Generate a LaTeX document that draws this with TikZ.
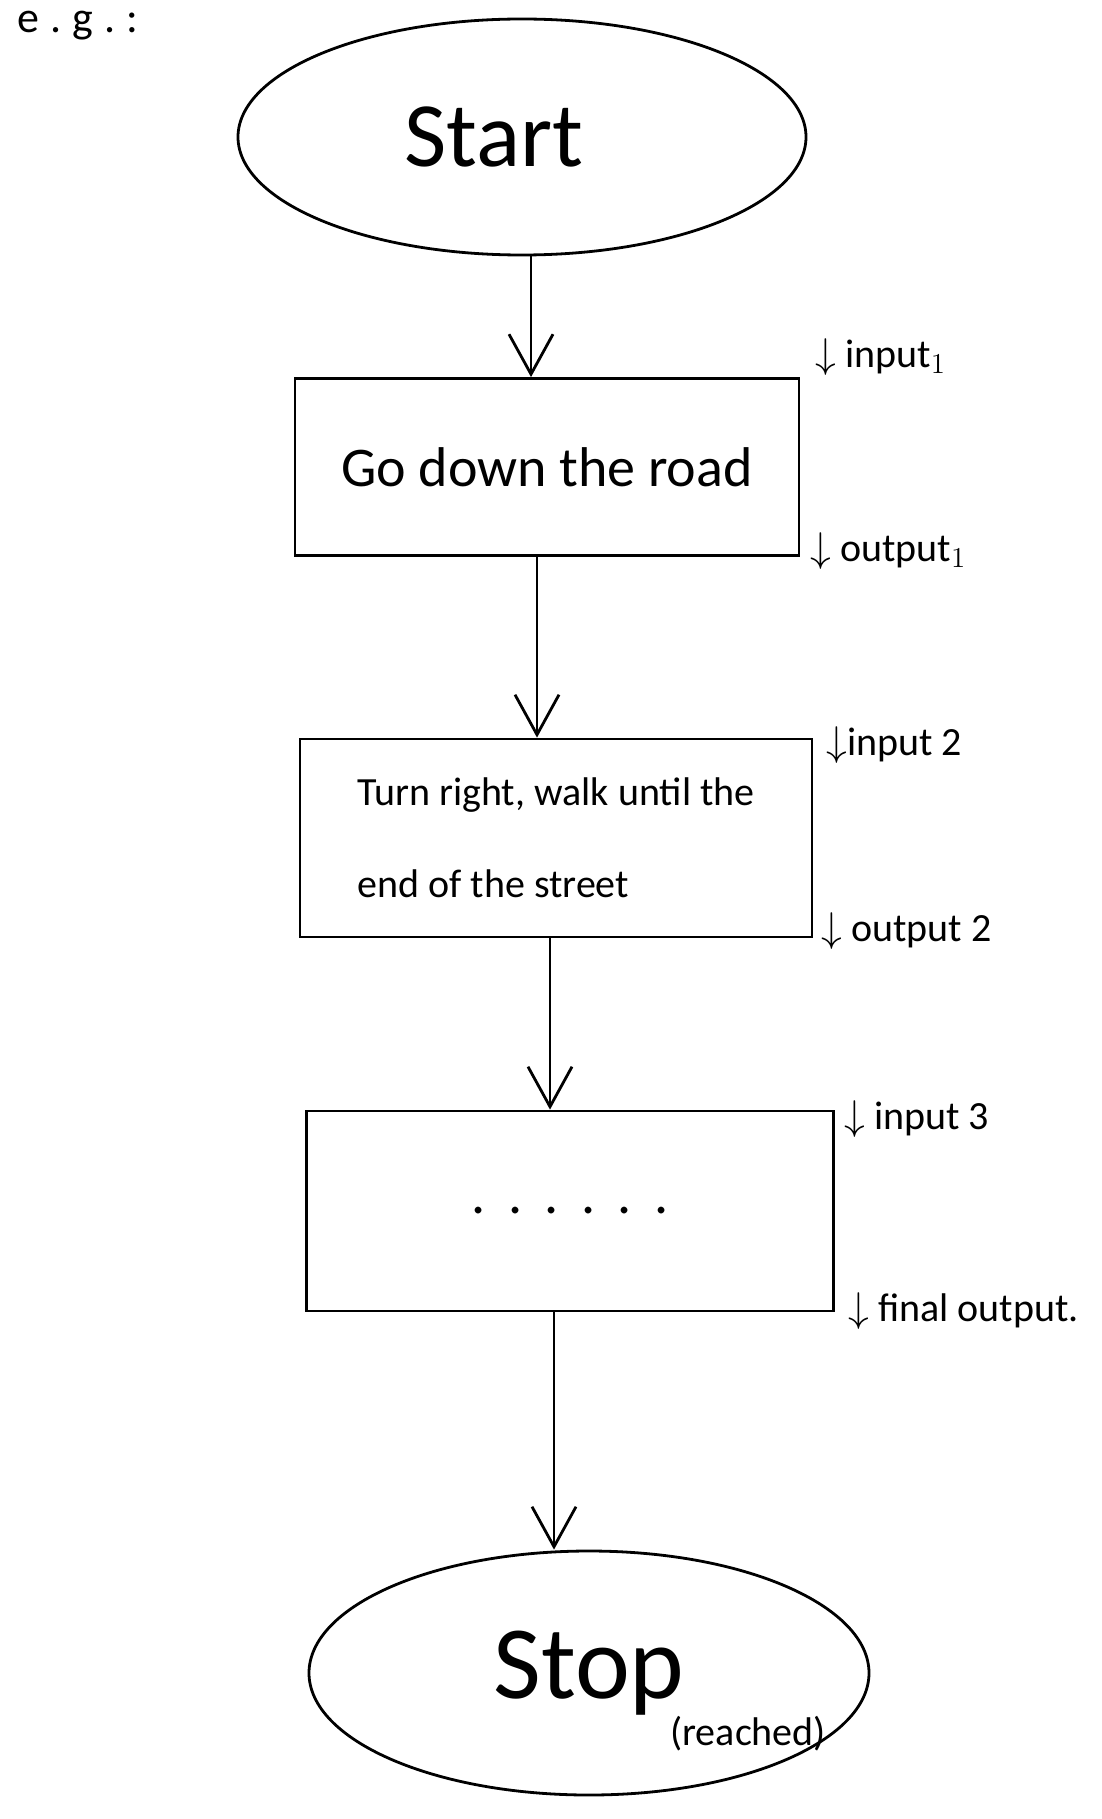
\documentclass[tikz,border=0pt]{standalone}
\usepackage{fontspec}
\setmainfont{Carlito}
\usetikzlibrary{shapes.geometric,arrows.meta}
\begin{document}
\begin{tikzpicture}[x=0.5pt,y=-0.5pt]
            \useasboundingbox (0,0) rectangle (1102,1819);
            \tikzstyle{terminal}=[ellipse, draw=black, line width=1.4pt, inner sep=0pt]
            \tikzstyle{stepbox}=[rectangle, draw=black, line width=1.4pt, inner sep=0pt]
            \tikzstyle{note}=[anchor=west, inner sep=0pt, font=\fontsize{20}{22}\selectfont]
            \tikzstyle{flow}=[line width=1.4pt, -{Straight Barb[length=20pt, width=22pt, line width=1.4pt]}]

            \node[note, font=\fontsize{22}{24}\selectfont\addfontfeature{LetterSpace=25}] (eg) at (17,26) {e.g.:};

            \node[terminal, minimum width=284pt, minimum height=118pt, font=\fontsize{46}{50}\selectfont] (start) at (522,137) {Start\hspace*{28pt}};
            \node[stepbox, minimum width=252pt, minimum height=88.5pt, font=\fontsize{28}{30}\selectfont] (road) at (547,467) {Go down the road};
            \node[stepbox, minimum width=256pt, minimum height=99pt, align=left, font=\fontsize{20}{22}\selectfont] (street) at (556,838) {Turn right, walk until the\\[24pt]end of the street};
            \node[stepbox, minimum width=263.5pt, minimum height=100pt, font=\fontsize{28}{30}\selectfont\addfontfeature{LetterSpace=40}] (more) at (570,1211) {......};
            \node[terminal, minimum width=280pt, minimum height=122pt, font=\fontsize{52}{56}\selectfont] (stop) at (589,1673) {Stop};
            \node[note] (reached) at (670,1734) {(reached)};

            \draw[flow] ([xshift=4.5pt]start.south) -- ([xshift=4.5pt]start.south |- road.north);
            \draw[flow] ([xshift=-5pt]road.south) -- ([xshift=-5pt]road.south |- street.north);
            \draw[flow] ([xshift=-3pt]street.south) -- ([xshift=-3pt]street.south |- more.north);
            \draw[flow] ([xshift=-8pt]more.south) -- ([xshift=-8pt]more.south |- stop.north);

            % notes beside the steps
            \node[note] (in1) at (815,357) {$\downarrow$ input$_1$};
            \node[note] (out1) at (810,551) {$\downarrow$ output$_1$};
            \node[note] (in2) at (826,745) {$\downarrow$input 2};
            \node[note] (out2) at (821,931) {$\downarrow$ output 2};
            \node[note] (in3) at (844,1119) {$\downarrow$ input 3};
            \node[note] (final) at (848,1311) {$\downarrow$ final output.};
        \end{tikzpicture}
\end{document}
